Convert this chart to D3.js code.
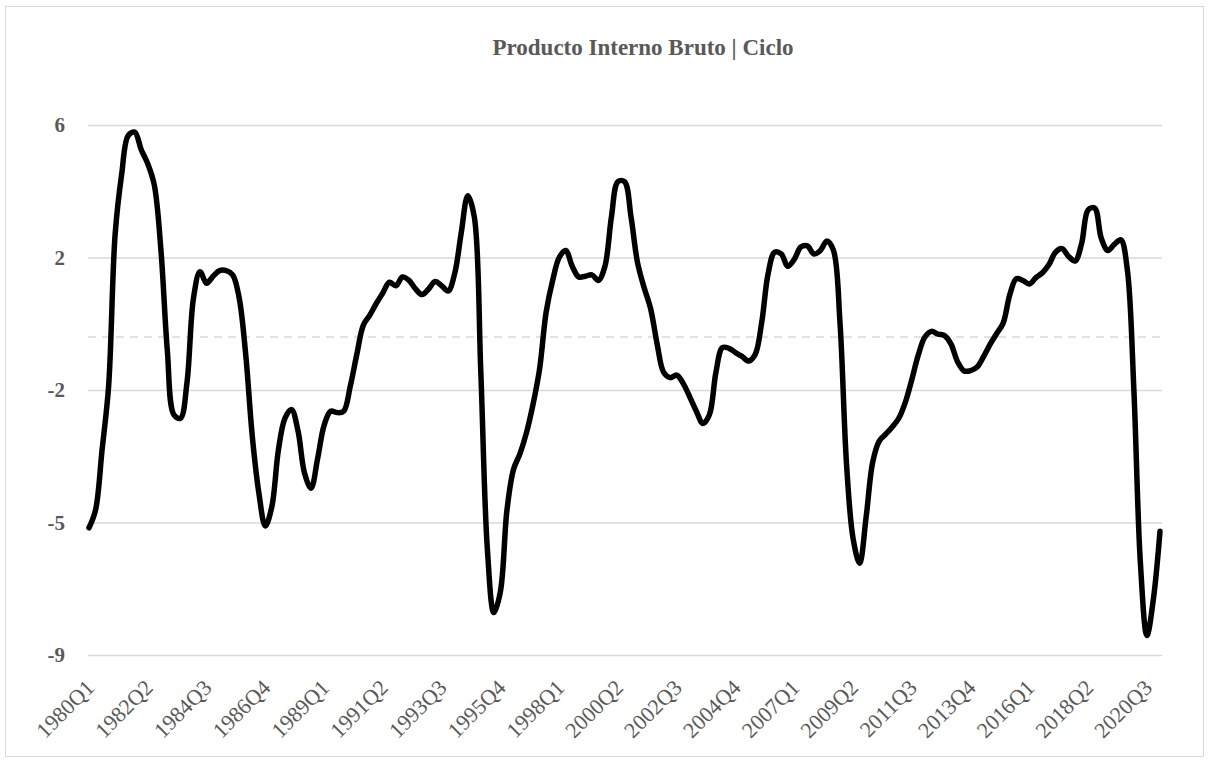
<!DOCTYPE html>
<html>
<head>
<meta charset="utf-8">
<script src="https://cdn.jsdelivr.net/npm/d3@7"></script>
<style>
  html, body { margin: 0; padding: 0; background: #fff; }
  svg { display: block; }
</style>
</head>
<body>
<svg id="chart" width="1208" height="760"></svg>
<script>
// ---- data ----
const title = "Producto Interno Bruto | Ciclo";
const startYear = 1980;
const cycleValues = [
  -5.40, -4.90, -3.20, -1.40, 2.90, 4.60, 5.70, 5.80, 5.30, 4.90,
  4.30, 2.50, -0.40, -2.20, -2.30, -1.30, 1.10, 1.85, 1.52, 1.72,
  1.88, 1.88, 1.76, 1.10, -0.50, -2.80, -4.40, -5.35, -4.80, -3.20,
  -2.30, -2.05, -2.65, -3.85, -4.28, -3.45, -2.50, -2.10, -2.14, -2.10,
  -1.40, -0.50, 0.33, 0.62, 0.95, 1.25, 1.55, 1.45, 1.70, 1.60,
  1.36, 1.20, 1.36, 1.57, 1.45, 1.30, 1.80, 2.95, 4.00, 3.40,
  -1.00, -6.00, -7.80, -7.20, -4.90, -3.75, -3.30, -2.70, -1.90, -0.90,
  0.70, 1.60, 2.25, 2.45, 2.00, 1.70, 1.72, 1.76, 1.60, 2.00,
  3.40, 4.40, 4.40, 3.40, 2.10, 1.40, 0.80, -0.20, -1.00, -1.15,
  -1.08, -1.32, -1.70, -2.10, -2.45, -2.20, -1.00, -0.30, -0.32, -0.44,
  -0.55, -0.68, -0.50, 0.40, 1.80, 2.40, 2.35, 2.00, 2.20, 2.55,
  2.58, 2.35, 2.45, 2.72, 2.45, 0.40, -3.60, -5.70, -6.40, -5.10,
  -3.55, -2.95, -2.75, -2.55, -2.30, -1.85, -1.20, -0.50, 0.00, 0.16,
  0.08, 0.04, -0.20, -0.70, -0.96, -0.95, -0.85, -0.55, -0.20, 0.10,
  0.40, 1.20, 1.65, 1.60, 1.50, 1.68, 1.82, 2.05, 2.40, 2.50,
  2.28, 2.15, 2.65, 3.60, 3.65, 2.80, 2.45, 2.62, 2.75, 1.90,
  -1.50, -6.40, -8.45, -7.40, -5.50
];
const xTickLabels = ["1980Q1","1982Q2","1984Q3","1986Q4","1989Q1","1991Q2","1993Q3",
  "1995Q4","1998Q1","2000Q2","2002Q3","2004Q4","2007Q1","2009Q2","2011Q3","2013Q4",
  "2016Q1","2018Q2","2020Q3"];
const yTickValues = [6, 2.25, -1.5, -5.25, -9];
const yTickLabels = ["6", "2", "-2", "-5", "-9"];
const yDomain = [-9, 6];

// categories (quarter labels)
const categories = cycleValues.map((_, i) =>
  (startYear + Math.floor(i / 4)) + "Q" + (i % 4 + 1));
const data = cycleValues.map((v, i) => ({ q: categories[i], i: i, v: v }));

// ---- layout ----
const svg = d3.select("#chart");
const plotLeft = 88, plotRight = 1162;
const font = "'Palatino Linotype','Book Antiqua',Palatino,'Liberation Serif',serif";
const textColor = "#595959";
const gridColor = "#d9d9d9";

svg.append("rect").attr("x", 0).attr("y", 0).attr("width", 1208).attr("height", 760).attr("fill", "#fff");
svg.append("rect").attr("x", 5.5).attr("y", 6.5).attr("width", 1198).attr("height", 750)
  .attr("fill", "none").attr("stroke", gridColor).attr("stroke-width", 1);

const x = d3.scaleLinear().domain([0, cycleValues.length - 1]).range([89, 1160]);
const y = d3.scaleLinear().domain(yDomain).range([655, 125]);

// gridlines + y labels
const yAxis = d3.axisLeft(y)
  .tickValues(yTickValues)
  .tickFormat((d, i) => yTickLabels[i])
  .tickSizeInner(-(plotRight - plotLeft))
  .tickSizeOuter(0)
  .tickPadding(23);
const gy = svg.append("g").attr("transform", `translate(${plotLeft},0)`).call(yAxis);
gy.select(".domain").remove();
gy.selectAll(".tick line").attr("stroke", gridColor).attr("stroke-width", 1.3);
gy.selectAll(".tick text")
  .attr("fill", textColor)
  .style("font-family", font)
  .style("font-size", "21px")
  .style("font-weight", "bold");

// zero dashed line
svg.append("line")
  .attr("x1", plotLeft).attr("x2", plotRight)
  .attr("y1", y(0)).attr("y2", y(0))
  .attr("stroke", gridColor).attr("stroke-width", 1.3)
  .attr("stroke-dasharray", "8,6");

// x labels
const tickIdx = xTickLabels.map(l => categories.indexOf(l));
const xAxis = d3.axisBottom(x)
  .tickValues(tickIdx)
  .tickFormat(d => categories[d])
  .tickSize(0);
const gx = svg.append("g").attr("transform", `translate(0,${y(-9)})`).call(xAxis);
gx.select(".domain").remove();
gx.selectAll(".tick text")
  .attr("fill", textColor)
  .style("font-family", font)
  .style("font-size", "22px")
  .attr("text-anchor", "end")
  .attr("dy", null)
  .attr("y", null)
  .attr("transform", "translate(6,34) rotate(-45)");

// line
const line = d3.line()
  .x(d => x(d.i))
  .y(d => y(d.v))
  .curve(d3.curveCatmullRom.alpha(0.5));
svg.append("path")
  .datum(data)
  .attr("d", line)
  .attr("fill", "none")
  .attr("stroke", "#000")
  .attr("stroke-width", 5.5)
  .attr("stroke-linejoin", "round")
  .attr("stroke-linecap", "round");

// title
svg.append("text")
  .attr("x", 643).attr("y", 55)
  .attr("text-anchor", "middle")
  .attr("fill", textColor)
  .style("font-family", font)
  .style("font-size", "23px")
  .style("font-weight", "bold")
  .text(title);
</script>
</body>
</html>
